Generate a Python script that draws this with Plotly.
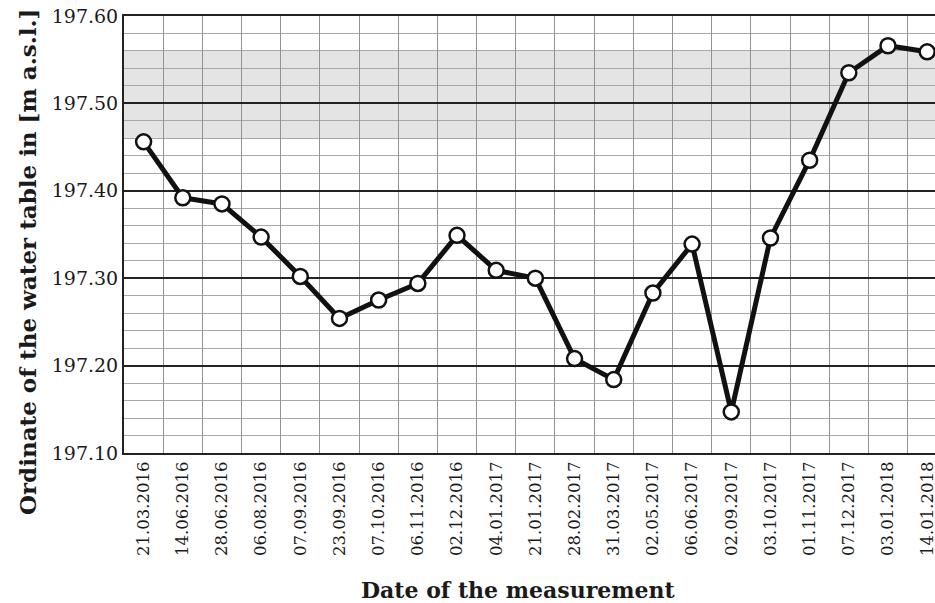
import plotly.graph_objects as go

dates = ["21.03.2016", "14.06.2016", "28.06.2016", "06.08.2016", "07.09.2016",
         "23.09.2016", "07.10.2016", "06.11.2016", "02.12.2016", "04.01.2017",
         "21.01.2017", "28.02.2017", "31.03.2017", "02.05.2017", "06.06.2017",
         "02.09.2017", "03.10.2017", "01.11.2017", "07.12.2017", "03.01.2018",
         "14.01.2018"]
levels = [197.456, 197.392, 197.385, 197.347, 197.302,
          197.254, 197.275, 197.294, 197.349, 197.309,
          197.300, 197.208, 197.184, 197.283, 197.339,
          197.147, 197.346, 197.435, 197.535, 197.566,
          197.559]
band_low, band_high = 197.46, 197.56
y_ticks = [197.10, 197.20, 197.30, 197.40, 197.50, 197.60]
x_title = "Date of the measurement"
y_title = "Ordinate of the water table in [m a.s.l.]"

serif = "DejaVu Serif"
ink = "#1a1a1a"

fig = go.Figure()
fig.add_trace(go.Scatter(
    x=dates, y=levels, mode="lines+markers",
    line=dict(color="#111111", width=5),
    marker=dict(size=15, color="white", line=dict(color="#111111", width=2.5)),
    cliponaxis=False,
))

fig.add_shape(type="rect", xref="paper", yref="y", x0=0, x1=1,
              y0=band_low, y1=band_high, fillcolor="#e4e4e4",
              line=dict(width=0), layer="below")

fig.update_layout(
    width=935, height=603,
    margin=dict(l=124, r=0, t=16, b=150),
    paper_bgcolor="white", plot_bgcolor="white",
    showlegend=False,
    font=dict(family=serif, color=ink),
    annotations=[
        dict(text=f"<b>{x_title}</b>", xref="paper", yref="paper",
             x=0.486, y=-0.3135, xanchor="center", yanchor="middle",
             showarrow=False, font=dict(family=serif, size=22, color=ink)),
        dict(text=f"<b>{y_title}</b>", xref="paper", yref="paper",
             x=-0.1196, y=0.437, xanchor="center", yanchor="middle",
             textangle=-90, showarrow=False,
             font=dict(family=serif, size=23, color=ink)),
    ],
)

fig.update_xaxes(
    type="category", range=[-0.5, 20.2], automargin=False,
    tickson="boundaries", showgrid=True, gridcolor="#939393", gridwidth=1.2,
    tickangle=-90, tickfont=dict(family=serif, size=16.5, color=ink),
    showline=True, linecolor="#222222", linewidth=2, mirror=True,
    ticks="", ticklen=0,
)

fig.update_yaxes(
    range=[197.10, 197.60], tickvals=y_ticks, automargin=False,
    ticktext=[f"{v:.2f}" for v in y_ticks],
    showgrid=True, gridcolor="#222222", gridwidth=1.5,
    minor=dict(dtick=0.02, tick0=197.10, showgrid=True, gridcolor="#a8a8a8", gridwidth=1.3),
    tickfont=dict(family=serif, size=19, color=ink),
    showline=True, linecolor="#222222", linewidth=2,
    zeroline=False, ticks="",
)

fig.write_html(
    "out.html",
    config={"displayModeBar": False},
    post_script="document.body.style.margin='0';document.body.style.overflow='hidden';",
)
